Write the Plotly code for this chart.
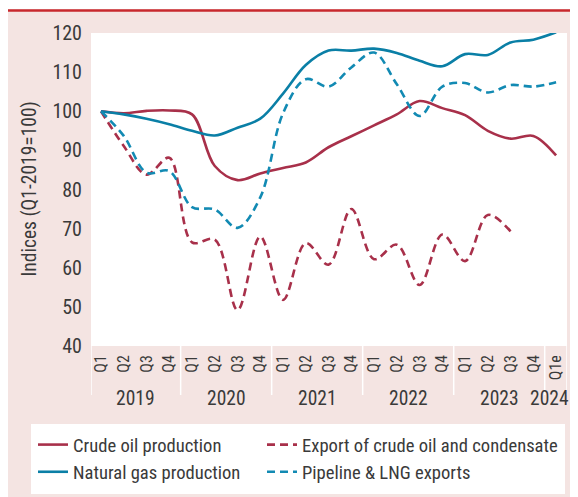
import plotly.graph_objects as go

# ---------------- data ----------------
quarters = ["Q1", "Q2", "Q3", "Q4"] * 5 + ["Q1e"]
years = ["2019", "2020", "2021", "2022", "2023", "2024"]
year_span = [4, 4, 4, 4, 4, 1]  # quarters shown per year

crude_oil_production = [100, 99.5, 100.1, 100.2, 99.2, 86.0, 82.4, 84.1, 85.5, 86.9,
                        90.8, 93.6, 96.4, 99.2, 102.6, 100.8, 99.0, 95.0, 93.0, 93.7, 88.7]
natural_gas_production = [100, 99.2, 98.1, 96.7, 95.0, 93.8, 95.8, 98.1, 104.5, 111.8,
                          115.5, 115.5, 116.0, 114.9, 112.9, 111.5, 114.6, 114.4, 117.6, 118.3, 120.2]
crude_condensate_export = [100, 91.1, 83.8, 88.1, 66.5, 67.2, 49.2, 68.0, 51.8, 66.3,
                           60.8, 75.0, 62.2, 65.9, 55.6, 68.5, 61.7, 73.5, 69.3]
pipeline_lng_exports = [100, 93.7, 84.3, 84.7, 75.5, 74.9, 70.2, 78.0, 99.5, 108.2,
                        106.3, 111.2, 115.0, 106.9, 98.8, 106.3, 107.2, 104.8, 106.7, 106.3, 107.4]

# ---------------- layout constants (page pixels; page body has an 8px margin) ----------------
OFF = 8
PAGE_W, PAGE_H = 578, 497
W, H = PAGE_W - OFF, PAGE_H - OFF
PLOT_L, PLOT_R, PLOT_T, PLOT_B = 91, 567, 33, 346   # plot area in page pixels
L = PLOT_L - OFF
T = PLOT_T - OFF
R = W - (PLOT_R - OFF)
B = H - (PLOT_B - OFF)
PW, PH = PLOT_R - PLOT_L, PLOT_B - PLOT_T

FONT = "Liberation Sans Narrow, Roboto Condensed, DejaVu Sans Condensed, Arial Narrow, sans-serif"
TXT = "#3a3a3a"
PINK = "#f4e4e2"
RED = "#a8304a"
BLUE = "#0a7fa6"
BLUE_D = "#128ab3"


def px_x(px):
    """page x pixel -> paper x"""
    return (px - PLOT_L) / PW


def px_y(py):
    """page y pixel -> paper y"""
    return (PLOT_B - py) / PH


xs = list(range(len(quarters)))

fig = go.Figure()
fig.add_trace(go.Scatter(x=xs[:len(crude_oil_production)], y=crude_oil_production,
                         name="Crude oil production", mode="lines", legend="legend",
                         line=dict(color=RED, width=2.6, shape="spline", smoothing=1)))
fig.add_trace(go.Scatter(x=xs[:len(natural_gas_production)], y=natural_gas_production,
                         name="Natural gas production", mode="lines", legend="legend",
                         line=dict(color=BLUE, width=2.6, shape="spline", smoothing=1)))
fig.add_trace(go.Scatter(x=xs[:len(crude_condensate_export)], y=crude_condensate_export,
                         name="Export of crude oil and condensate", mode="lines", legend="legend2",
                         line=dict(color=RED, width=2.6, dash="8px,5px", shape="spline", smoothing=1)))
fig.add_trace(go.Scatter(x=xs[:len(pipeline_lng_exports)], y=pipeline_lng_exports,
                         name="Pipeline & LNG exports", mode="lines", legend="legend2",
                         line=dict(color=BLUE_D, width=2.6, dash="8px,5px", shape="spline", smoothing=1)))

x0 = -0.44
x1 = 20.48

shapes = []
# red top rule
shapes.append(dict(type="line", xref="paper", yref="paper", x0=px_x(OFF), x1=px_x(PAGE_W + 5),
                   y0=px_y(10.5), y1=px_y(10.5), line=dict(color="#c8282d", width=2.6)))
shapes.append(dict(type="rect", xref="paper", yref="paper", x0=px_x(OFF - 2), x1=px_x(PAGE_W + 5),
                   y0=px_y(9.2), y1=px_y(OFF - 2), fillcolor="white", line_width=0, layer="below"))
# legend white box
shapes.append(dict(type="rect", xref="paper", yref="paper", x0=px_x(31), x1=px_x(565),
                   y0=px_y(494), y1=px_y(424), fillcolor="white", line_width=0, layer="below"))
# year separators in the axis band
bounds = [x0]
acc = -0.5
for s in year_span[:-1]:
    acc += s
    bounds.append(acc)
bounds.append(x1)
for b in bounds:
    shapes.append(dict(type="line", xref="x", yref="paper", x0=b, x1=b,
                       y0=px_y(346), y1=px_y(395), line=dict(color="white", width=1.5)))

annotations = []
acc = 0
for yr, s in zip(years, year_span):
    cx = acc + (s - 1) / 2
    acc += s
    if s > 1:
        pos = dict(x=cx, xref="x", xanchor="center")
    else:
        # the single-quarter year label is pushed against the right edge of the panel
        pos = dict(x=px_x(571), xref="paper", xanchor="right")
    annotations.append(dict(y=px_y(398), yref="paper", text=yr, showarrow=False,
                            yanchor="middle", font=dict(family=FONT, size=19.5, color=TXT), **pos))
annotations.append(dict(x=px_x(29), xref="paper", y=0.5, yref="paper",
                        text="Indices (Q1-2019=100)", textangle=-90, showarrow=False,
                        xanchor="center", yanchor="middle",
                        font=dict(family=FONT, size=19.5, color=TXT)))

legend_common = dict(orientation="v", xanchor="left", yanchor="top",
                     bgcolor="rgba(0,0,0,0)", font=dict(family=FONT, size=18.6, color=TXT),
                     traceorder="normal", itemwidth=30, tracegroupgap=0)

fig.update_layout(
    width=W, height=H,
    margin=dict(l=L, r=R, t=T, b=B, autoexpand=False),
    paper_bgcolor=PINK, plot_bgcolor="white",
    font=dict(family=FONT, size=20, color=TXT),
    showlegend=True,
    legend=dict(x=px_x(33), y=px_y(426), **legend_common),
    legend2=dict(x=px_x(262), y=px_y(426), **legend_common),
    shapes=shapes,
    annotations=annotations,
    xaxis=dict(range=[x0, x1], tickmode="array", tickvals=xs, ticktext=quarters,
               tickangle=-90, showgrid=False, zeroline=False, showline=False, ticks="",
               ticklabelstandoff=5, tickfont=dict(family=FONT, size=16, color=TXT)),
    yaxis=dict(range=[40, 120], dtick=10, showgrid=False, zeroline=False, showline=False,
               ticks="", ticklabelstandoff=8, tickfont=dict(family=FONT, size=20, color=TXT)),
)

fig.write_html("out.html")
